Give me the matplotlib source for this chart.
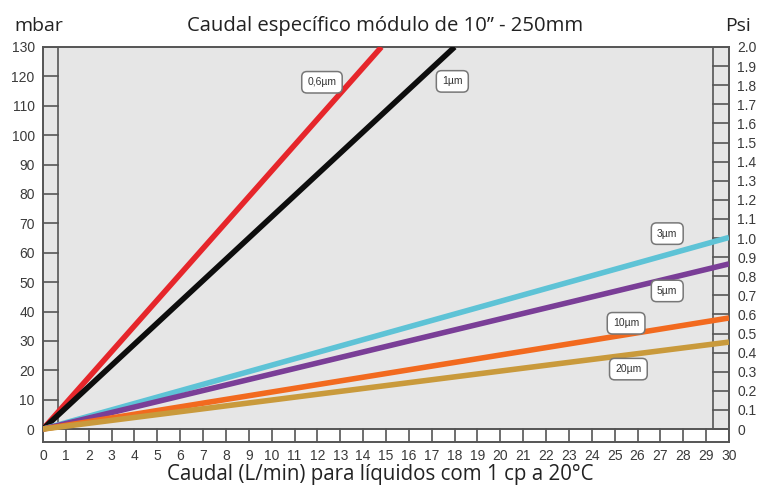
import matplotlib
matplotlib.use("Agg")
import matplotlib.pyplot as plt
import numpy as np

# ---- data ----
flow_max = [14.8, 18.0, 30.0, 30.0, 30.0, 30.0]          # L/min at line end
dp_end = [130.0, 130.0, 65.2, 56.2, 37.8, 29.6]           # mbar at line end
series_names = ["0,6µm", "1µm", "3µm", "5µm", "10µm", "20µm"]
series_colors = ["#e6262b", "#0d0d0d", "#5ec3d6", "#7a3e97", "#f26a1f", "#c99a3c"]
label_pos = [(12.2, 118.0), (17.9, 118.3), (27.3, 66.5), (27.3, 47.0), (25.5, 36.0), (25.6, 20.4)]
x_ticks = list(range(0, 31))
mbar_ticks = list(range(0, 131, 10))
psi_ticks = [round(0.1 * i, 1) for i in range(0, 21)]

fig = plt.figure(figsize=(7.67, 4.88), dpi=100)
ax = fig.add_axes([43/767, 1-442/488, (729-43)/767, (442-47)/488])
ymin = -4.4
ax.set_xlim(0, 30)
ax.set_ylim(ymin, 130)
ax.set_facecolor("#e6e6e6")
frame_c = "#555555"
for s in ax.spines.values():
    s.set_color(frame_c)
    s.set_linewidth(1.4)

# bottom strip (white) with dividers
ax.fill_between([0, 30], ymin, 0, color="white", zorder=1)
ax.plot([0, 30], [0, 0], color=frame_c, lw=1.4, zorder=2)
for xv in x_ticks:
    ax.plot([xv, xv], [ymin, 0], color=frame_c, lw=1.2, zorder=2)
# left ruler
xl = 0.66
ax.plot([xl, xl], [0, 130], color=frame_c, lw=1.2, zorder=2)
for yv in mbar_ticks:
    ax.plot([0, xl], [yv, yv], color=frame_c, lw=1.2, zorder=2)
# right ruler
xr = 29.3
ax.plot([xr, xr], [0, 130], color=frame_c, lw=1.2, zorder=2)
for pv in psi_ticks:
    ax.plot([xr, 30], [pv * 65, pv * 65], color=frame_c, lw=1.2, zorder=2)

# series lines
for fm, de, c in zip(flow_max, dp_end, series_colors):
    ax.plot([0, fm], [0, de], color=c, lw=4.0, solid_capstyle="butt", zorder=3, clip_on=True)

tick_font = ["Liberation Sans Narrow", "Liberation Sans", "DejaVu Sans"]

# labels
for name, (lx, ly) in zip(series_names, label_pos):
    ax.text(lx, ly, name, fontsize=7.5, family=tick_font,
            color="#333333", ha="center", va="center", zorder=5,
            bbox=dict(boxstyle="round,pad=0.55,rounding_size=0.5", fc="white", ec="#777777", lw=1.1))

ax.set_xticks(x_ticks)
ax.set_xticklabels([str(v) for v in x_ticks], fontsize=10, family=tick_font, color="#3a3a3a")
ax.set_yticks(mbar_ticks)
ax.set_yticklabels([str(v) for v in mbar_ticks], fontsize=10, family=tick_font, color="#3a3a3a")
ax.tick_params(axis="both", length=0)
ax.tick_params(axis="x", pad=5)
ax.tick_params(axis="y", pad=6)

ax2 = ax.twinx()
ax2.set_ylim(ymin / 65, 2.0)
ax2.set_yticks(psi_ticks)
ax2.set_yticklabels(["0" if v == 0 else f"{v:.1f}" for v in psi_ticks], fontsize=10,
                    family=tick_font, color="#3a3a3a")
ax2.tick_params(axis="y", length=0, pad=6)
for s in ax2.spines.values():
    s.set_visible(False)

txt_font = ["Open Sans", "DejaVu Sans"]
fig.text(14/767, 1-31/488, "mbar", fontsize=14, family=txt_font, color="#222222", ha="left", va="baseline")
fig.text(385/767, 1-31/488, "Caudal específico módulo de 10” - 250mm", fontsize=14.6, family=txt_font,
         color="#222222", ha="center", va="baseline")
fig.text(751/767, 1-31/488, "Psi", fontsize=14, family=txt_font, color="#222222", ha="right", va="baseline")
fig.text(380/767, 1-480/488, "Caudal (L/min) para líquidos com 1 cp a 20°C", fontsize=14.8, family=txt_font,
         color="#222222", ha="center", va="baseline")

fig.savefig("out.png", dpi=100, facecolor="white")
